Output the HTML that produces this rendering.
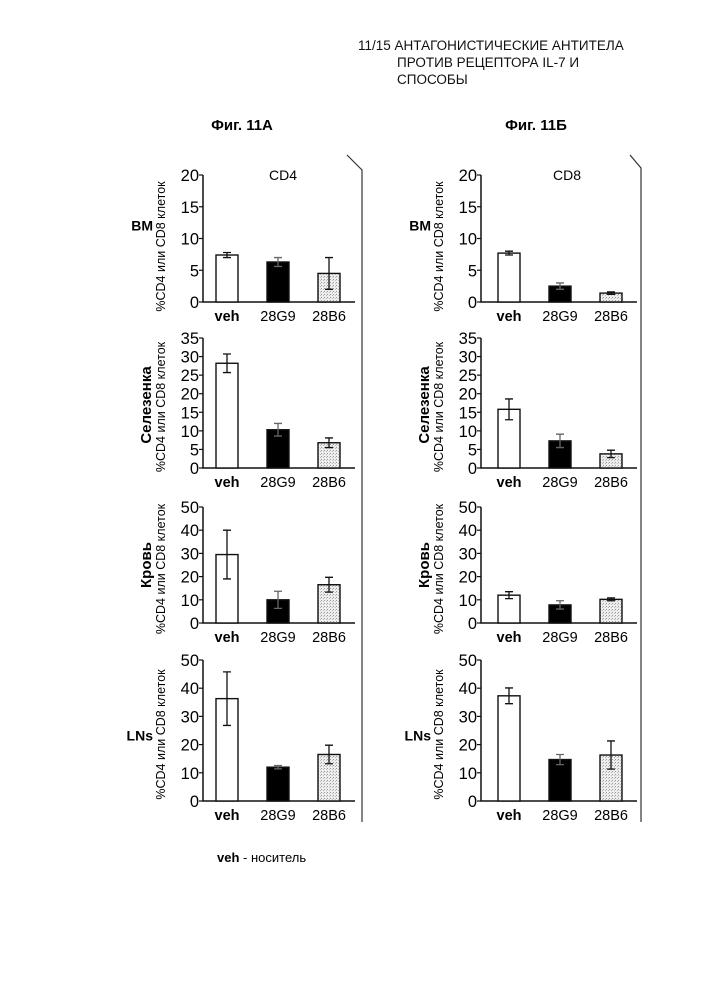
<!DOCTYPE html>
<html><head><meta charset="utf-8"><style>
body{margin:0;background:#fff;}
svg{display:block;font-family:"Liberation Sans",sans-serif;}
</style></head><body>
<svg id="fig" width="707" height="1000" viewBox="0 0 707 1000">
<defs><pattern id="dots" width="3" height="3" patternUnits="userSpaceOnUse"><rect width="3" height="3" fill="#eee"/><rect x="0" y="0" width="1" height="1" fill="#999"/><rect x="2" y="1" width="1" height="1" fill="#bbb"/></pattern></defs>
<g font-size="13.5" fill="#111">
<text x="358" y="50">11/15 АНТАГОНИСТИЧЕСКИЕ АНТИТЕЛА</text>
<text x="397" y="67">ПРОТИВ РЕЦЕПТОРА IL-7 И</text>
<text x="397" y="84">СПОСОБЫ</text>
</g>
<text x="242" y="130" font-size="15" font-weight="bold" text-anchor="middle">Фиг. 11А</text>
<text x="536" y="130" font-size="15" font-weight="bold" text-anchor="middle">Фиг. 11Б</text>
<text x="283" y="180" font-size="14" text-anchor="middle">CD4</text>
<text x="567" y="180" font-size="14" text-anchor="middle">CD8</text>
<path d="M347 155 L362 170 L362 822" fill="none" stroke="#333" stroke-width="1.2"/>
<path d="M630 155 L641 168 L641 822" fill="none" stroke="#333" stroke-width="1.2"/>
<text x="217" y="862" font-size="13"><tspan font-weight="bold">veh</tspan> - носитель</text>
<g id="charts"></g>
</svg>
<script>
const categories=["veh","28G9","28B6"];
const rowNames=["BM","Селезенка","Кровь","LNs"];
const yMaxes=[20,35,50,50];
const yStepsArr=[5,5,10,10];
const cd4Values=[[7.4,6.3,4.5],[28.2,10.3,6.8],[29.5,10,16.5],[36.3,12,16.5]];
const cd4Errors=[[0.4,0.7,2.5],[2.5,1.7,1.3],[10.5,3.7,3.2],[9.5,0.6,3.3]];
const cd8Values=[[7.7,2.5,1.4],[15.8,7.3,3.8],[12,7.8,10.2],[37.3,14.7,16.3]];
const cd8Errors=[[0.3,0.5,0.2],[2.8,1.8,1],[1.5,1.8,0.6],[2.8,1.8,5]];
const NS="http://www.w3.org/2000/svg";
const root=document.getElementById("charts");
const rowsY=[[175,302],[338,468],[507,623],[660,801]];
function mk(tag,attrs,parent){const e=document.createElementNS(NS,tag);for(const k in attrs)e.setAttribute(k,attrs[k]);parent.appendChild(e);return e;}
function panel(col,r,vals,errs){
  const axX=col===0?203:481, barX0=col===0?216:498, endX=col===0?355:637;
  const [yTop,yBot]=rowsY[r]; const max=yMaxes[r];
  const y=v=>yBot-(v/max)*(yBot-yTop);
  const xb=i=>barX0+i*51;
  const g=mk("g",{},root);
  
  
  const ax=mk("path",{d:`M${axX} ${yTop} L${axX} ${yBot} L${endX} ${yBot}`,fill:"none",stroke:"#111","stroke-width":1.5},g);
  
  
  for(let v=0;v<=max;v+=yStepsArr[r]){
    const t=mk("line",{x1:axX-4,x2:axX,y1:y(v),y2:y(v),stroke:"#111","stroke-width":1.2},g);
    
    
    const tl=mk("text",{x:axX-4,y:y(v)+6,"font-size":16.5,"text-anchor":"end"},g);tl.textContent=v;
    
    
  }
  const tt=mk("text",{transform:`translate(${axX-38},${(yTop+yBot)/2+ (r===0?8:4)}) rotate(-90)`,"font-size":12.5,"text-anchor":"middle"},g);
  tt.textContent="%CD4 или CD8 клеток";
  
  
  const fills=["#fff","#000","url(#dots)"];
  vals.forEach((v,i)=>{
    const b=mk("rect",{x:xb(i),y:y(v),width:22,height:yBot-y(v),fill:fills[i],stroke:"#111","stroke-width":1.4},g);
    
    
    const c=xb(i)+11,hi=y(v+errs[i]),lo=y(v-errs[i]);
    const e=mk("path",{d:`M${c} ${hi} L${c} ${lo} M${c-4} ${hi} L${c+4} ${hi} M${c-4} ${lo} L${c+4} ${lo}`,stroke:i===1?"#666":"#111","stroke-width":1.3,fill:"none"},g);
    
    
    const l=mk("text",{x:c,y:yBot+19,"font-size":14.5,"text-anchor":"middle","font-weight":i===0?"bold":"normal"},g);l.textContent=categories[i];
    
    
  });
  const cy=(yTop+yBot)/2;
  let rl;
  if(r===0||r===3){rl=mk("text",{x:axX-50,y:r===0?cy-8:cy+10,"font-size":14,"font-weight":"bold","text-anchor":"end"},g);}
  else{rl=mk("text",{transform:`translate(${axX-52},${cy+(r===1?2:0)}) rotate(-90)`,"font-size":15,"font-weight":"bold","text-anchor":"middle"},g);}
  rl.textContent=rowNames[r];
  
  
}
for(let r=0;r<4;r++){panel(0,r,cd4Values[r],cd4Errors[r]);panel(1,r,cd8Values[r],cd8Errors[r]);}
</script>
</body></html>
